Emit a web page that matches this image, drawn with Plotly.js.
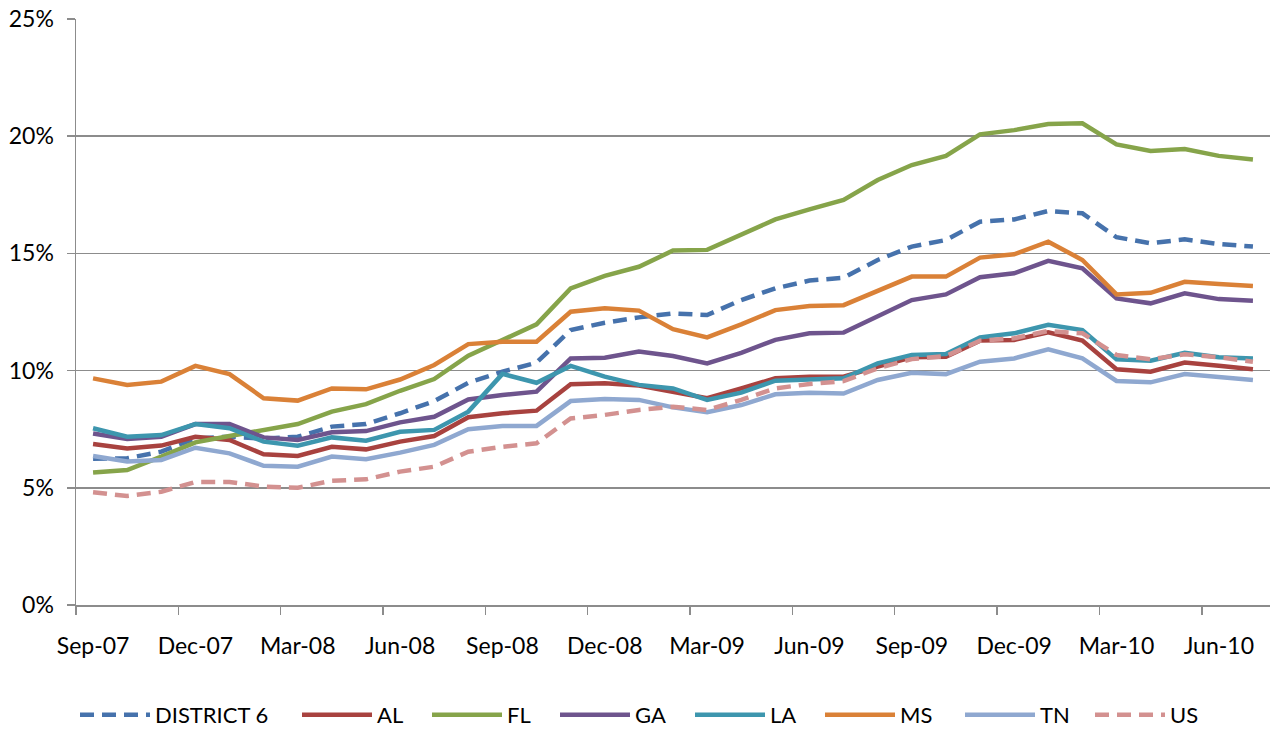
<!DOCTYPE html>
<html>
<head>
<meta charset="utf-8">
<script src="https://cdn.plot.ly/plotly-3.0.1.min.js"></script>
<style>html,body{margin:0;padding:0;background:#fff}#chart{width:1273px;height:730px}</style>
</head>
<body>
<div id="chart"></div>
<script>
const months = ["Sep-07","Oct-07","Nov-07","Dec-07","Jan-08","Feb-08","Mar-08","Apr-08","May-08","Jun-08","Jul-08","Aug-08","Sep-08","Oct-08","Nov-08","Dec-08","Jan-09","Feb-09","Mar-09","Apr-09","May-09","Jun-09","Jul-09","Aug-09","Sep-09","Oct-09","Nov-09","Dec-09","Jan-10","Feb-10","Mar-10","Apr-10","May-10","Jun-10","Jul-10"];

const district6 = [6.24,6.26,6.54,7.11,7.18,7.10,7.18,7.61,7.72,8.18, 8.70,9.48,9.95,10.34,11.73,12.04,12.27,12.44,12.37,13.01, 13.51,13.84,13.96,14.72,15.29,15.57,16.35,16.45,16.81,16.71, 15.69,15.43,15.60,15.40,15.29];
const al = [6.87,6.68,6.80,7.18,7.04,6.43,6.36,6.75,6.64,6.97, 7.21,8.01,8.18,8.29,9.42,9.46,9.36,9.07,8.82,9.24, 9.67,9.74,9.74,10.17,10.57,10.59,11.28,11.31,11.63,11.28, 10.06,9.95,10.34,10.21,10.06];
const fl = [5.65,5.76,6.33,6.94,7.21,7.47,7.72,8.25,8.57,9.14, 9.64,10.64,11.33,11.97,13.51,14.04,14.43,15.12,15.15,15.79, 16.45,16.88,17.28,18.13,18.77,19.16,20.08,20.26,20.52,20.55, 19.65,19.37,19.45,19.16,19.01];
const ga = [7.32,7.08,7.18,7.72,7.72,7.15,7.04,7.37,7.42,7.79, 8.03,8.77,8.96,9.10,10.52,10.55,10.81,10.62,10.31,10.76, 11.31,11.59,11.62,12.33,13.01,13.25,13.98,14.15,14.68,14.36, 13.08,12.87,13.30,13.05,12.98];
const la = [7.54,7.18,7.25,7.72,7.54,6.97,6.80,7.15,7.01,7.39, 7.47,8.25,9.86,9.48,10.20,9.74,9.39,9.24,8.75,9.06, 9.57,9.64,9.67,10.31,10.67,10.71,11.42,11.59,11.95,11.73, 10.48,10.42,10.76,10.57,10.52];
const ms = [9.67,9.39,9.53,10.20,9.85,8.82,8.72,9.24,9.20,9.62, 10.24,11.13,11.23,11.23,12.51,12.66,12.56,11.77,11.42,11.97, 12.58,12.76,12.79,13.41,14.01,14.01,14.82,14.96,15.50,14.72, 13.25,13.32,13.79,13.69,13.61];
const tn = [6.36,6.12,6.19,6.71,6.47,5.94,5.90,6.33,6.22,6.50, 6.83,7.50,7.64,7.64,8.70,8.79,8.75,8.43,8.22,8.53, 8.99,9.06,9.02,9.60,9.91,9.85,10.38,10.52,10.91,10.52, 9.56,9.50,9.85,9.71,9.60];
const us = [4.81,4.65,4.83,5.25,5.25,5.05,5.00,5.30,5.36,5.69, 5.90,6.54,6.75,6.90,7.96,8.11,8.32,8.46,8.32,8.75, 9.24,9.43,9.55,10.10,10.49,10.62,11.28,11.38,11.69,11.59, 10.67,10.48,10.70,10.57,10.38];

const seriesNames = ["DISTRICT 6","AL","FL","GA","LA","MS","TN","US"];
const seriesData = [district6, al, fl, ga, la, ms, tn, us];
const colors = ["#4672AC","#A8423F","#86A44A","#6E548D","#3D96AE","#DA8137","#8FA8D0","#D39190"];
const dashes = ["14px,8px","solid","solid","solid","solid","solid","solid","14px,8px"];
const legendX = [80,302,432,560,695,825,965,1095];

const FONT = "Lato, 'Open Sans', sans-serif";
const L = 76, R = 3, T = 19, B = 125, W = 1273, H = 730;
const pw = W - L - R, ph = H - T - B;

const traces = seriesData.map((d, i) => ({
  type: "scatter", mode: "lines", x: months, y: d, name: seriesNames[i],
  line: {color: colors[i], width: 4.5, dash: dashes[i]},
  legend: i === 0 ? "legend" : "legend" + (i + 1),
  hoverinfo: "skip"
}));

const layout = {
  width: W, height: H,
  margin: {l: L, r: R, t: T, b: B, pad: 0, autoexpand: false},
  paper_bgcolor: "#fff", plot_bgcolor: "#fff",
  font: {family: FONT, size: 22, color: "#000"},
  xaxis: {
    type: "category", range: [-0.5, 34.5],
    tickmode: "linear", tick0: 0, dtick: 3, tickson: "boundaries", tickangle: 0,
    ticks: "outside", ticklen: 8, tickwidth: 1.5, tickcolor: "#8c8c8c",
    showgrid: false, showline: true, linecolor: "#8c8c8c", linewidth: 1.5,
    tickfont: {family: FONT, size: 23, color: "#000"},
    ticklabelstandoff: 20,
    zeroline: false, fixedrange: true, automargin: false
  },
  yaxis: {
    range: [0, 25], tickmode: "linear", tick0: 0, dtick: 5, ticksuffix: "%",
    ticks: "outside", ticklen: 8, tickwidth: 1.5, tickcolor: "#8c8c8c",
    showgrid: true, gridcolor: "#8c8c8c", gridwidth: 1.5,
    showline: true, linecolor: "#8c8c8c", linewidth: 1.5,
    zeroline: false, tickfont: {family: FONT, size: 23, color: "#000"},
    ticklabelstandoff: 8, fixedrange: true, automargin: false
  },
  showlegend: true
};

legendX.forEach((px, i) => {
  const key = i === 0 ? "legend" : "legend" + (i + 1);
  layout[key] = {
    x: (px - 5 - L) / pw, y: (T + ph - 715) / ph,
    xanchor: "left", yanchor: "middle", orientation: "h",
    bgcolor: "rgba(0,0,0,0)", borderwidth: 0,
    itemwidth: 70,
    font: {family: FONT, size: 22, color: "#000"}
  };
});

Plotly.newPlot("chart", traces, layout, {displayModeBar: false, staticPlot: true});
</script>
</body>
</html>
